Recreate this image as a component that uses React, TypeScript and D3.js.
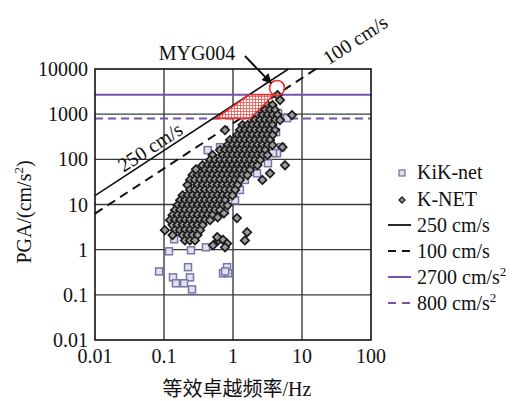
import React from 'react';
import * as d3 from 'd3';

// K-NET stations, read row by row: [PGA, frequencies on that row]
const knetRows: [number, number[]][] = [
  [2650, [4.41]],
  [2055, [4.8]],
  [1592, [3.16, 3.73]],
  [1233, [2.46, 2.91, 3.44, 4.06]],
  [955, [1.91, 2.26, 2.67, 3.16, 3.73, 4.41]],
  [740, [2.08, 2.46, 2.91, 3.44, 4.06, 4.8]],
  [573, [1.37, 1.62, 1.91, 2.26, 2.67, 3.16, 3.73]],
  [444, [1.26, 1.49, 1.76, 2.08, 2.46, 2.91, 3.44, 4.06]],
  [344, [1.16, 1.37, 1.62, 1.91, 2.26, 2.67, 3.16, 3.73]],
  [267, [0.905, 1.07, 1.26, 1.49, 1.76, 2.08, 2.46, 2.91, 3.44]],
  [206, [0.832, 0.983, 1.16, 1.37, 1.62, 1.91, 2.26, 2.67, 3.16, 3.73]],
  [160, [0.648, 0.766, 0.905, 1.07, 1.26, 1.49, 1.76, 2.08, 2.46, 2.91]],
  [124, [0.504, 0.704, 0.832, 0.983, 1.16, 1.37, 1.62, 1.91, 2.26, 2.67, 3.16]],
  [96, [0.464, 0.548, 0.648, 0.766, 0.905, 1.07, 1.26, 1.49, 1.76, 2.08, 2.46]],
  [74, [0.362, 0.427, 0.504, 0.596, 0.704, 0.832, 0.983, 1.16, 1.37, 1.62, 1.91, 2.26]],
  [58, [0.393, 0.464, 0.548, 0.648, 0.766, 0.905, 1.07, 1.26, 1.49, 1.76]],
  [45, [0.259, 0.306, 0.362, 0.427, 0.504, 0.596, 0.704, 0.832, 0.983, 1.16, 1.37, 1.62]],
  [35, [0.238, 0.281, 0.333, 0.393, 0.464, 0.548, 0.648, 0.766, 0.905, 1.07, 1.26]],
  [27, [0.219, 0.306, 0.362, 0.427, 0.504, 0.596, 0.704, 0.832, 0.983, 1.16]],
  [21, [0.238, 0.281, 0.333, 0.393, 0.464, 0.548, 0.648, 0.766, 0.905, 1.07]],
  [16, [0.186, 0.219, 0.259, 0.306, 0.362, 0.427, 0.504, 0.596, 0.704, 0.832, 0.983]],
  [12.4, [0.171, 0.201, 0.238, 0.281, 0.333, 0.393, 0.464, 0.548, 0.648, 0.766]],
  [9.6, [0.157, 0.186, 0.219, 0.259, 0.306, 0.362, 0.427, 0.504, 0.596, 0.704, 0.832]],
  [7.5, [0.144, 0.171, 0.201, 0.238, 0.281, 0.333, 0.393, 0.464, 0.548, 0.648]],
  [5.8, [0.133, 0.157, 0.186, 0.219, 0.259, 0.306, 0.362, 0.427, 0.504]],
  [4.5, [0.122, 0.144, 0.171, 0.201, 0.238, 0.281, 0.333, 0.393, 0.464]],
  [3.5, [0.133, 0.157, 0.186, 0.219, 0.259, 0.306, 0.362]],
  [2.7, [0.103, 0.144, 0.171, 0.201, 0.238, 0.281, 0.333]],
  [2.1, [0.133, 0.186, 0.219, 0.259, 0.306]],
  [1.6, [0.201, 0.238, 0.281]],
];

// scattered K-NET points off the main band: [f, PGA]
const knetOutliers: [number, number][] = [
  [7.16, 955], [0.766, 444], [5.21, 186], [5.67, 74], [3.44, 49], [2.67, 35],
  [1.14, 5.0], [1.6, 2.43], [1.49, 1.6], [0.513, 1.25], [0.61, 1.6], [0.716, 1.66],
  [0.82, 1.37], [0.766, 1.13], [0.59, 1.9], [0.6, 5.2], [0.74, 6.4], [0.29, 60],
];

// KiK-net stations: [f, PGA]
const kiknetPoints: [number, number][] = [
  [0.085, 0.33], [0.118, 0.92], [0.246, 0.97], [0.406, 1.13], [0.135, 0.244],
  [0.149, 0.18], [0.223, 0.41], [0.238, 0.244], [0.195, 0.18], [0.255, 0.132],
  [0.716, 0.3], [0.82, 0.41], [0.85, 0.3], [0.77, 0.33], [0.14, 1.7], [0.154, 3.1],
  [0.3, 31], [0.32, 14.5], [0.69, 23], [0.43, 160], [0.65, 186], [1.88, 818],
  [2.72, 818], [4.49, 1058], [6.07, 818], [4.2, 401], [4.97, 186], [4.35, 137],
  [3.21, 82], [2.23, 49], [2.3, 112], [3.8, 137], [3.44, 267], [2.63, 267],
  [2.08, 160], [1.76, 74], [1.49, 35], [1.26, 21], [1.07, 12.4], [0.766, 7.5],
];

const xTicks = [0.01, 0.1, 1, 10, 100];
const xTickLabels = ['0.01', '0.1', '1', '10', '100'];
const yTicks = [0.01, 0.1, 1, 10, 100, 1000, 10000];
const yTickLabels = ['0.01', '0.1', '1', '10', '100', '1000', '10000'];

const velocities = [250, 100]; // cm/s
const pgaLimits = [2700, 800]; // cm/s^2

// MYG004 highlighted region: [f, PGA]
const zonePoly: [number, number][] = [[0.56, 800], [1.72, 2700], [3.93, 2700], [1.76, 800]];
const mygPoint: [number, number] = [4.35, 3800];
const arrowFrom: [number, number] = [1.49, 19400];
const arrowTo: [number, number] = [3.56, 4890];

const PURPLE = '#7a52ad';
const RED = '#e8322c';
const SERIF = "'Liberation Serif', 'DejaVu Serif', serif";
const CJK = "'Liberation Serif', 'Noto Sans CJK SC', serif";

const W = 517;
const H = 401;

export default function App() {
  const x = d3.scaleLog().domain([0.01, 100]).range([95, 371]);
  const y = d3.scaleLog().domain([0.01, 10000]).range([340, 69]);

  const knetPoints: [number, number][] = [];
  knetRows.forEach(([pga, fs]) => fs.forEach((f) => knetPoints.push([f, pga])));
  knetOutliers.forEach((p) => knetPoints.push(p));

  // slope angle of a constant-velocity line on screen
  const angle = (Math.atan2(y(1000) - y(100), x(10) - x(1)) * 180) / Math.PI;
  const velLine = (v: number) => {
    const f1 = 0.01;
    const f2 = 10000 / (2 * Math.PI * v);
    return { x1: x(f1), y1: y(2 * Math.PI * v * f1), x2: x(f2), y2: y(10000) };
  };
  const onLine = (v: number, f: number) => [x(f), y(2 * Math.PI * v * f)];

  const diamond = 'M0,-4.2L4.2,0L0,4.2L-4.2,0Z';
  const polyPath = d3.line<[number, number]>().x((d) => x(d[0])).y((d) => y(d[1]));

  const [l250x, l250y] = onLine(250, 0.076);
  const [l100x, l100y] = onLine(100, 62);

  const ax1 = x(arrowFrom[0]);
  const ay1 = y(arrowFrom[1]);
  const ax2 = x(arrowTo[0]);
  const ay2 = y(arrowTo[1]);

  const legendY = [173, 200, 225, 251, 277, 303];

  return (
    <svg width={W} height={H} style={{ position: 'absolute', left: 0, top: 0, background: '#fff', fontFamily: SERIF }}>
      <defs>
        <clipPath id="plot-clip">
          <rect x={95} y={69} width={276} height={271} />
        </clipPath>
        <pattern id="hatch" width={3} height={3} patternUnits="userSpaceOnUse">
          <rect width={3} height={3} fill="#fff" />
          <path d="M0,0.5H3M0.5,0V3" stroke={RED} strokeWidth={0.8} opacity={0.85} />
        </pattern>
        <marker id="arrowhead" viewBox="0 0 10 10" refX={9} refY={5} markerWidth={5} markerHeight={5}
          orient="auto">
          <path d="M0,0L10,5L0,10Z" fill="#111" />
        </marker>
      </defs>

      {/* grid */}
      {xTicks.slice(1, -1).map((t) => (
        <line key={'gx' + t} x1={x(t)} x2={x(t)} y1={69} y2={340} stroke="#3a3a3a" strokeWidth={1.4} />
      ))}
      {yTicks.slice(1, -1).map((t) => (
        <line key={'gy' + t} x1={95} x2={371} y1={y(t)} y2={y(t)} stroke="#3a3a3a" strokeWidth={1.4} />
      ))}

      <g clipPath="url(#plot-clip)">
        {/* PGA limits */}
        <line x1={95} x2={371} y1={y(pgaLimits[0])} y2={y(pgaLimits[0])} stroke={PURPLE} strokeWidth={2} />
        <line x1={95} x2={371} y1={y(pgaLimits[1])} y2={y(pgaLimits[1])} stroke={PURPLE} strokeWidth={2}
          strokeDasharray="8,5" />
      </g>

      {/* velocity lines */}
      <line {...velLine(velocities[0])} stroke="#111" strokeWidth={1.6} />
      <line {...velLine(velocities[1])} stroke="#111" strokeWidth={2} strokeDasharray="9,6" />

      {/* data */}
      <g clipPath="url(#plot-clip)">
        {kiknetPoints.map(([f, p], i) => (
          <rect key={'k' + i} x={x(f) - 3.5} y={y(p) - 3.5} width={7} height={7} fill="#e2e2ee"
            stroke="#7676a8" strokeWidth={1.5} />
        ))}
        {knetPoints.map(([f, p], i) => (
          <path key={'n' + i} d={diamond} transform={`translate(${x(f)},${y(p)})`} fill="#9a9a9a"
            stroke="#1c1c1c" strokeWidth={1.7} />
        ))}
      </g>

      {/* MYG004 annotation */}
      <path d={polyPath(zonePoly) + 'Z'} fill="url(#hatch)" stroke={RED} strokeWidth={1.6} />
      <circle cx={x(mygPoint[0])} cy={y(mygPoint[1])} r={7.5} fill="none" stroke={RED} strokeWidth={1.6} />
      <line x1={ax1} y1={ay1} x2={ax2} y2={ay2} stroke="#111" strokeWidth={2} markerEnd="url(#arrowhead)" />
      <text x={197} y={60} fontSize={20} textAnchor="middle" fill="#111">MYG004</text>

      {/* line labels */}
      <text transform={`translate(${l250x},${l250y}) rotate(${angle})`} y={-3.5} fontSize={20}
        textAnchor="middle" fill="#111">250 cm/s</text>
      <text transform={`translate(${l100x},${l100y}) rotate(${angle})`} y={4} fontSize={20}
        textAnchor="middle" fill="#111">100 cm/s</text>

      {/* frame */}
      <rect x={95} y={69} width={276} height={271} fill="none" stroke="#111" strokeWidth={1.6} />

      {/* tick labels */}
      {xTicks.map((t, i) => (
        <text key={'xt' + t} x={x(t)} y={363} fontSize={20} textAnchor="middle" fill="#111">
          {xTickLabels[i]}
        </text>
      ))}
      {yTicks.map((t, i) => (
        <text key={'yt' + t} x={88} y={y(t)} dy="0.35em" fontSize={20} textAnchor="end" fill="#111">
          {yTickLabels[i]}
        </text>
      ))}

      {/* axis titles */}
      <text x={237} y={396} fontSize={20} textAnchor="middle" fill="#111" style={{ fontFamily: CJK }}>
        等效卓越频率/Hz
      </text>
      <text transform="translate(31,212) rotate(-90)" fontSize={20} textAnchor="middle" fill="#111">
        PGA/(cm/s<tspan fontSize={13} dy={-8}>2</tspan><tspan dy={8}>)</tspan>
      </text>

      {/* legend */}
      <rect x={402 - 3} y={legendY[0] - 3} width={6} height={6} fill="#e2e2ee" stroke="#7676a8" strokeWidth={1.3} />
      <path d="M0,-3L3,0L0,3L-3,0Z" transform={`translate(402,${legendY[1]})`} fill="#9a9a9a" stroke="#1c1c1c"
        strokeWidth={1.3} />
      <line x1={388} x2={411} y1={legendY[2]} y2={legendY[2]} stroke="#111" strokeWidth={1.8} />
      <line x1={388} x2={410} y1={legendY[3]} y2={legendY[3]} stroke="#111" strokeWidth={2.2} strokeDasharray="8,6" />
      <line x1={388} x2={411} y1={legendY[4]} y2={legendY[4]} stroke={PURPLE} strokeWidth={2} />
      <line x1={388} x2={410} y1={legendY[5]} y2={legendY[5]} stroke={PURPLE} strokeWidth={2} strokeDasharray="8,6" />
      <text x={417} y={legendY[0] + 6} fontSize={20} fill="#111">KiK-net</text>
      <text x={417} y={legendY[1] + 6} fontSize={20} fill="#111">K-NET</text>
      <text x={417} y={legendY[2] + 7} fontSize={20} fill="#111">250 cm/s</text>
      <text x={417} y={legendY[3] + 7} fontSize={20} fill="#111">100 cm/s</text>
      <text x={417} y={legendY[4] + 7} fontSize={20} fill="#111">
        2700 cm/s<tspan fontSize={13} dy={-8}>2</tspan>
      </text>
      <text x={417} y={legendY[5] + 7} fontSize={20} fill="#111">
        800 cm/s<tspan fontSize={13} dy={-8}>2</tspan>
      </text>
    </svg>
  );
}
